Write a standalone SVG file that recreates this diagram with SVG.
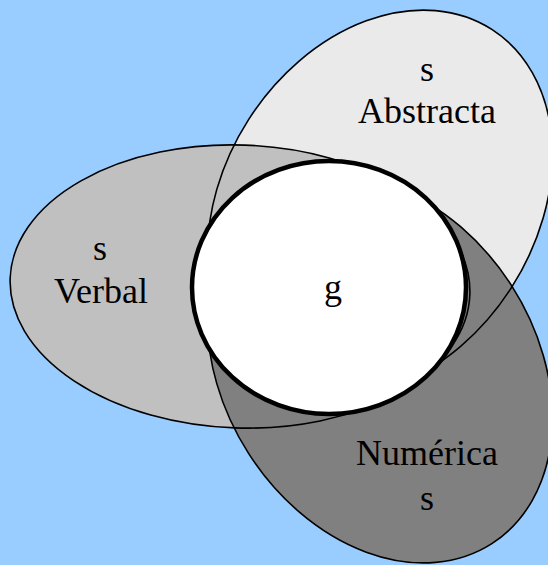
<svg xmlns="http://www.w3.org/2000/svg" xmlns:xlink="http://www.w3.org/1999/xlink" width="548" height="565" viewBox="0 0 548 565">
  <style>
    .lbl { font-family: "Liberation Serif", "Times New Roman", serif; font-size: 36px; fill: #000; text-anchor: middle; }
    .outline { fill: none; stroke: #000; stroke-width: 1.6; }
  </style>
  <defs>
    <ellipse id="shapeAbs" cx="0" cy="0" rx="207" ry="156" transform="translate(380,203.6) rotate(-57.3)"/>
    <ellipse id="shapeVer" cx="0" cy="0" rx="230" ry="141.5" transform="translate(240,286.5) rotate(2)"/>
    <ellipse id="shapeNum" cx="0" cy="0" rx="207" ry="156" transform="translate(380,369.4) rotate(57.3)"/>
  </defs>
  <rect x="0" y="0" width="548" height="565" fill="#99ccff"/>
  <g id="abstracta">
    <use xlink:href="#shapeAbs" href="#shapeAbs" fill="#eaeaea"/>
    <text class="lbl" x="427" y="81">s</text>
    <text class="lbl" x="427" y="123">Abstracta</text>
  </g>
  <g id="verbal">
    <use xlink:href="#shapeVer" href="#shapeVer" fill="#c0c0c0"/>
    <text class="lbl" x="100" y="260">s</text>
    <text class="lbl" x="101" y="303">Verbal</text>
  </g>
  <g id="numerica">
    <use xlink:href="#shapeNum" href="#shapeNum" fill="#808080"/>
    <text class="lbl" x="427" y="465">Numérica</text>
    <text class="lbl" x="427" y="510">s</text>
  </g>
  <g id="connectors">
    <use xlink:href="#shapeAbs" href="#shapeAbs" class="outline"/>
    <use xlink:href="#shapeVer" href="#shapeVer" class="outline"/>
    <use xlink:href="#shapeNum" href="#shapeNum" class="outline"/>
  </g>
  <g id="g">
    <ellipse cx="329" cy="287.5" rx="137" ry="126.5" fill="#ffffff" stroke="#000" stroke-width="4.5"/>
    <text class="lbl" x="333" y="299">g</text>
  </g>
</svg>
